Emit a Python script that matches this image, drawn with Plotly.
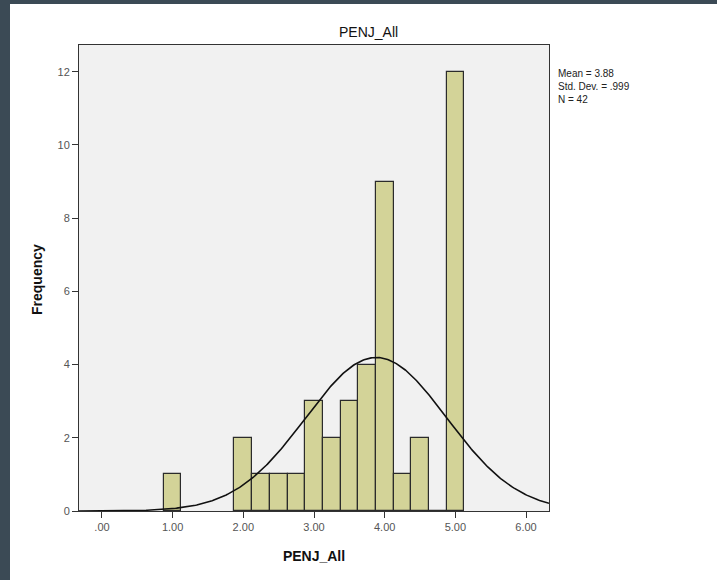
import numpy as np
import plotly.graph_objects as go

# Data
bin_centers = [1.00, 2.00, 2.25, 2.50, 2.75, 3.00, 3.25, 3.50, 3.75, 4.00, 4.25, 4.50, 4.75, 5.00]
frequencies = [1, 2, 1, 1, 1, 3, 2, 3, 4, 9, 1, 2, 0, 12]
bin_width = 0.25
stat_mean = 3.88
stat_sd = 0.999
stat_n = 42
x_tick_vals = [0, 1, 2, 3, 4, 5, 6]
x_tick_text = [".00", "1.00", "2.00", "3.00", "4.00", "5.00", "6.00"]
y_tick_vals = [0, 2, 4, 6, 8, 10, 12]

W, H = 717, 580
L, R, T, B = 79, 549, 45, 511

x_range = [-0.325, 6.325]
xc = np.linspace(x_range[0], x_range[1], 400)
yc = stat_n * bin_width * np.exp(-0.5 * ((xc - stat_mean) / stat_sd) ** 2) / (stat_sd * np.sqrt(2 * np.pi))

font_fam = "Arial, Liberation Sans, sans-serif"

fig = go.Figure()
fig.add_trace(go.Bar(
    x=bin_centers, y=frequencies, width=bin_width,
    marker=dict(color="#d3d398", line=dict(color="#2b2b2b", width=1.2)),
    hoverinfo="x+y", showlegend=False,
))
fig.add_trace(go.Scatter(
    x=xc, y=yc, mode="lines", line=dict(color="#111111", width=1.6),
    showlegend=False, hoverinfo="skip",
))

def px(xp):
    return (xp - L) / (R - L)

def py(yp):
    return (B - yp) / (B - T)

shapes = [
    dict(type="rect", xref="paper", yref="paper", x0=px(-5), x1=px(10), y0=py(600), y1=py(-10),
         fillcolor="#3b4a55", line=dict(width=0), layer="below"),
    dict(type="rect", xref="paper", yref="paper", x0=px(-5), x1=px(730), y0=py(4), y1=py(-10),
         fillcolor="#3b4a55", line=dict(width=0), layer="below"),
]

annotations = [
    dict(text="PENJ_All", xref="paper", yref="paper", x=px(368), y=py(32), showarrow=False,
         font=dict(family=font_fam, size=14, color="#111"), xanchor="center", yanchor="middle"),
    dict(text="Mean = 3.88<br>Std. Dev. = .999<br>N = 42", xref="paper", yref="paper",
         x=px(556), y=py(66), showarrow=False, align="left",
         font=dict(family=font_fam, size=10, color="#222"), xanchor="left", yanchor="top"),
    dict(text="<b>Frequency</b>", xref="paper", yref="paper", x=px(37), y=py(280),
         showarrow=False, textangle=-90, xanchor="center", yanchor="middle",
         font=dict(family=font_fam, size=14, color="#111")),
]

fig.update_layout(
    width=W, height=H,
    margin=dict(l=L, r=W - R, t=T, b=H - B, pad=0),
    paper_bgcolor="white",
    plot_bgcolor="#f1f1f1",
    bargap=0,
    shapes=shapes,
    annotations=annotations,
    xaxis=dict(
        range=x_range, tickvals=x_tick_vals, ticktext=x_tick_text,
        showgrid=False, zeroline=False, showline=True, mirror=True,
        linecolor="#333", linewidth=1, ticks="outside", ticklen=6, tickcolor="#333",
        tickfont=dict(family=font_fam, size=11, color="#555"),
        title=dict(text="<b>PENJ_All</b>", font=dict(family=font_fam, size=14, color="#111"), standoff=18),
    ),
    yaxis=dict(
        range=[0, 12.73], tickvals=y_tick_vals,
        showgrid=False, zeroline=False, showline=True, mirror=True,
        linecolor="#333", linewidth=1, ticks="outside", ticklen=6, tickcolor="#333",
        tickfont=dict(family=font_fam, size=11, color="#555"),
    ),
)

fig.write_html("out.html")
